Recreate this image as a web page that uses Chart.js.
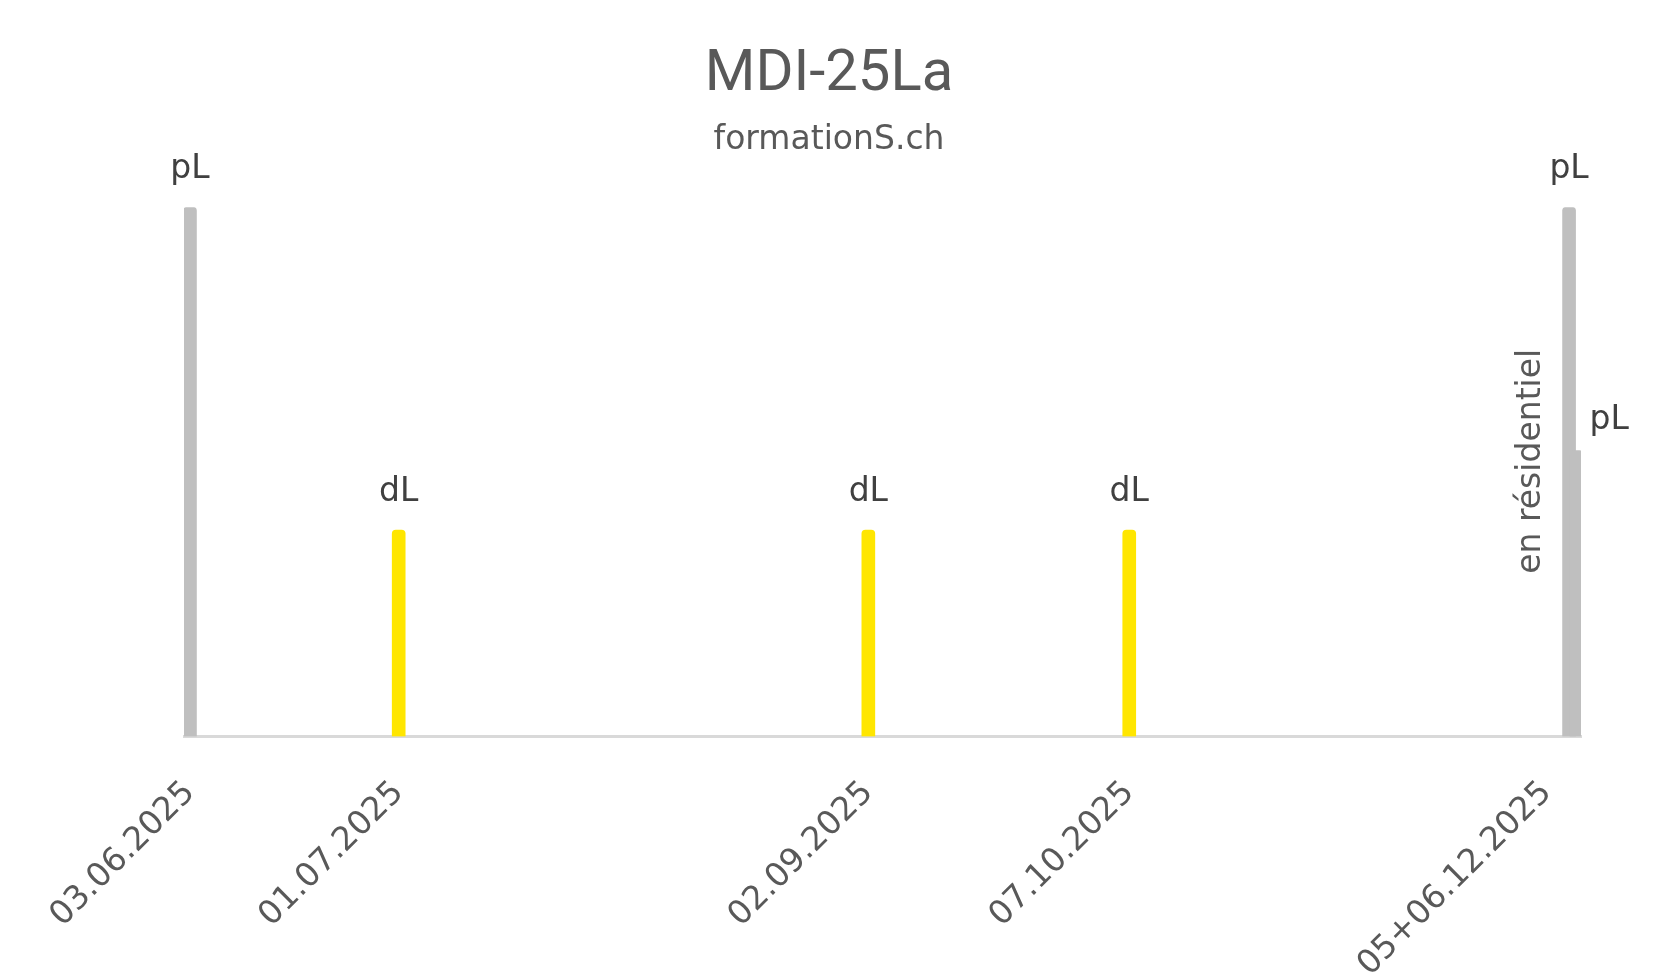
<!DOCTYPE html>
<html><head><meta charset="utf-8">
<script src="https://cdn.jsdelivr.net/npm/chart.js@4.4.1/dist/chart.umd.min.js"></script>
<style>html,body{margin:0;padding:0;background:#fff}#wrap{width:1658px;height:972px;position:relative}</style>
</head><body><div id="wrap"><canvas id="c"></canvas></div>
<script>
// ---- data ----
const pLDates = ['03.06.2025', '05.12.2025', '06.12.2025'];
const pLValues = [1, 1, 0.54];
const pLLabels = ['pL', 'pL', 'pL'];
const dLDates = ['01.07.2025', '02.09.2025', '07.10.2025'];
const dLValues = [0.39, 0.39, 0.39];
const dLLabels = ['dL', 'dL', 'dL'];
const tickDates = ['03.06.2025', '01.07.2025', '02.09.2025', '07.10.2025', '02.12.2025'];
const tickLabels = ['03.06.2025', '01.07.2025', '02.09.2025', '07.10.2025', '05+06.12.2025'];
const noteText = 'en résidentiel';
const noteDate = '05.12.2025';
const noteValue = 0.52;
const titleText = 'MDI-25La';
const subtitleText = 'formationS.ch';

function dayNum(s) { const [d, m, y] = s.split('.').map(Number); return Date.UTC(y, m - 1, d) / 86400000; }
const day0 = dayNum(pLDates[0]);
const toX = s => dayNum(s) - day0;

const labelPlugin = {
  id: 'barLabels',
  afterDatasetsDraw(chart) {
    const ctx = chart.ctx;
    ctx.save();
    ctx.font = '33px "DejaVu Sans"';
    ctx.fillStyle = '#404040';
    ctx.textBaseline = 'alphabetic';
    chart.data.datasets.forEach((ds, di) => {
      const meta = chart.getDatasetMeta(di);
      meta.data.forEach((bar, i) => {
        const txt = ds.barLabels[i];
        if (ds.labelSide && ds.labelSide[i]) {
          ctx.textAlign = 'left';
          ctx.fillText(txt, bar.x + 13, bar.y - 22);
        } else {
          ctx.textAlign = 'center';
          ctx.fillText(txt, bar.x, bar.y - 29);
        }
      });
    });
    const xs = chart.scales.x, ys = chart.scales.y;
    const nx = xs.getPixelForValue(toX(noteDate)) - 38;
    const ny = ys.getPixelForValue(noteValue);
    ctx.translate(nx, ny);
    ctx.rotate(-Math.PI / 2);
    ctx.textAlign = 'center';
    ctx.textBaseline = 'middle';
    ctx.fillStyle = '#595959';
    ctx.fillText(noteText, 0, 0);
    ctx.restore();
  }
};

new Chart(document.getElementById('c'), {
  type: 'bar',
  data: {
    datasets: [
      { label: 'pL', data: pLDates.map((d, i) => ({ x: toX(d), y: pLValues[i] })), backgroundColor: '#BFBFBF', barLabels: pLLabels, labelSide: [false, false, true] },
      { label: 'dL', data: dLDates.map((d, i) => ({ x: toX(d), y: dLValues[i] })), backgroundColor: '#FFE600', barLabels: dLLabels }
    ]
  },
  options: {
    responsive: true, maintainAspectRatio: false, animation: false, devicePixelRatio: 1,
    layout: { padding: { left: 77, right: 77, top: 0, bottom: 0 } },
    datasets: { bar: { grouped: false, barThickness: 13, borderRadius: 4, borderSkipped: 'start' } },
    plugins: {
      legend: { display: false }, tooltip: { enabled: false },
      title: { display: true, text: titleText, color: '#595959', font: { family: 'Roboto', size: 58, weight: 'normal', lineHeight: 1.2 }, padding: { top: 41, bottom: 0 } },
      subtitle: { display: true, text: subtitleText, color: '#595959', font: { family: 'DejaVu Sans', size: 33, weight: 'normal', lineHeight: 1.2 }, padding: { top: 10, bottom: 47 } }
    },
    scales: {
      x: {
        type: 'linear', min: -0.8, max: 186.6, z: 1, offset: false,
        grid: { display: false, drawTicks: false, offset: false },
        border: { display: true, color: '#D9D9D9', width: 3 },
        afterBuildTicks(scale) { scale.ticks = tickDates.map(d => ({ value: toX(d) })); },
        afterFit(scale) { scale.height = 972 - 736.5; },
        ticks: {
          autoSkip: false, maxRotation: 45, minRotation: 45, padding: 37, color: '#595959',
          font: { family: 'DejaVu Sans', size: 33 },
          callback: (v, i) => tickLabels[i]
        }
      },
      y: {
        display: true, min: 0, max: 1,
        grid: { display: false, drawTicks: false },
        border: { display: false },
        ticks: { display: false },
        afterFit(scale) { scale.width = 107; }
      }
    }
  },
  plugins: [labelPlugin]
});
</script>
</body></html>
